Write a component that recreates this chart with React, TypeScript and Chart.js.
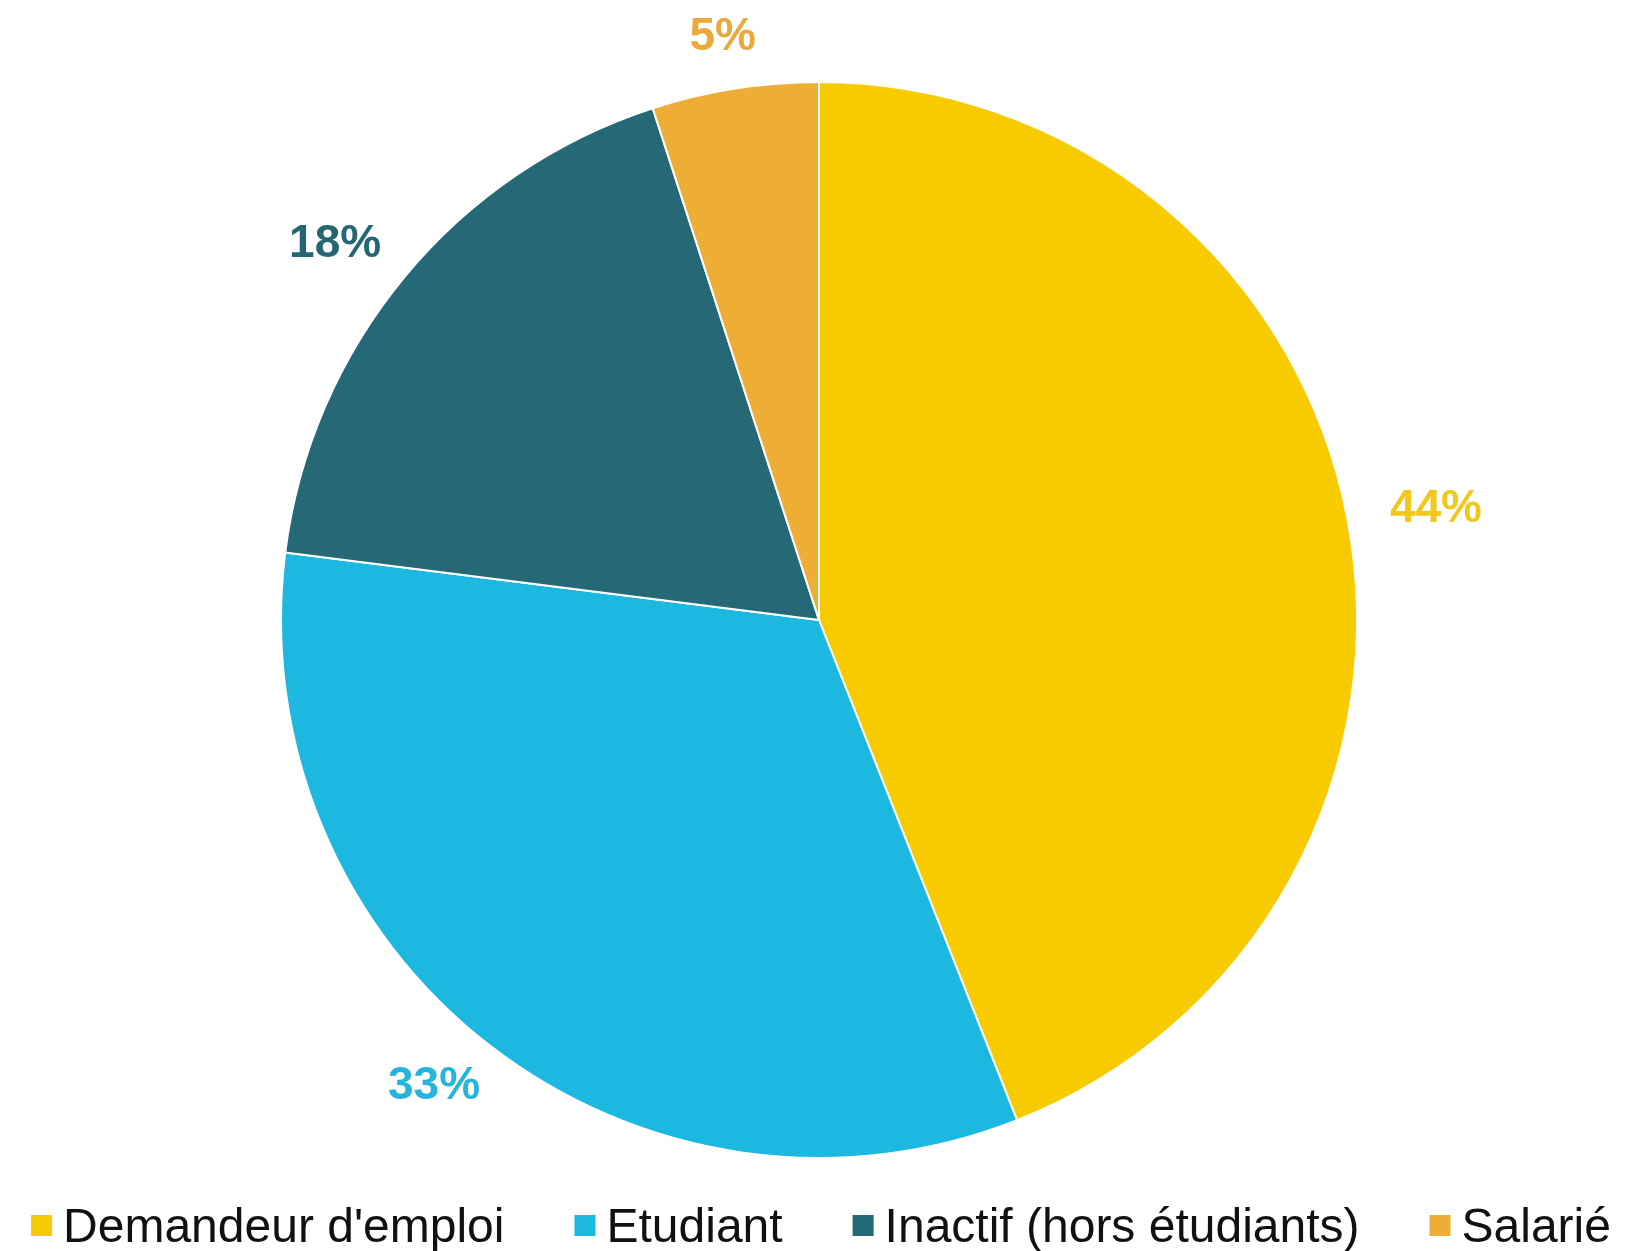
import React, { useEffect, useRef } from "react";
import { Chart, registerables } from "chart.js";

Chart.register(...registerables);

const categories = ["Demandeur d'emploi", "Etudiant", "Inactif (hors étudiants)", "Salarié"];
const values = [44, 33, 18, 5];
const sliceColors = ["#F8CB00", "#1DB8E0", "#256876", "#EEAE35"];
const labelColors = ["#F3C81C", "#24B5DC", "#256675", "#E9AA3A"];
const valueLabels = ["44%", "33%", "18%", "5%"];

const W = 1626;
const H = 1251;

const outsideLabels = {
  id: "outsideLabels",
  afterDatasetsDraw(chart: any) {
    const ctx = chart.ctx;
    const meta = chart.getDatasetMeta(0);
    ctx.save();
    ctx.font = "bold 46px 'Liberation Sans', Arial, sans-serif";
    ctx.textAlign = "center";
    ctx.textBaseline = "middle";
    meta.data.forEach((arc: any, i: number) => {
      const { x, y, startAngle, endAngle, outerRadius } = arc.getProps(
        ["x", "y", "startAngle", "endAngle", "outerRadius"],
        true
      );
      const mid = (startAngle + endAngle) / 2;
      const dx = Math.cos(mid);
      const dy = Math.sin(mid);
      const text = valueLabels[i];
      const w = ctx.measureText(text).width;
      const d = outerRadius + 44;
      const cx = x + dx * d + dx * (w / 2);
      const cy = y + dy * d + dy * 8;
      ctx.fillStyle = labelColors[i];
      ctx.fillText(text, cx, cy);
    });
    ctx.restore();
  },
};

const bottomLegend = {
  id: "bottomLegend",
  afterDraw(chart: any) {
    const ctx = chart.ctx;
    ctx.save();
    ctx.font = "48px 'Liberation Sans', Arial, sans-serif";
    ctx.textBaseline = "alphabetic";
    ctx.textAlign = "left";
    const box = 21;
    const boxGap = 11;
    const itemGap = 70;
    const widths = categories.map((c) => ctx.measureText(c).width);
    const total =
      widths.reduce((a, b) => a + b, 0) + categories.length * (box + boxGap) + (categories.length - 1) * itemGap;
    const centerX = (chart.chartArea.left + chart.chartArea.right) / 2 + 2;
    let x = centerX - total / 2;
    const baseline = chart.height - 9;
    categories.forEach((c, i) => {
      ctx.fillStyle = sliceColors[i];
      ctx.fillRect(x, baseline - 27, box, box);
      x += box + boxGap;
      ctx.fillStyle = "#111111";
      ctx.fillText(c, x, baseline);
      x += widths[i] + itemGap;
    });
    ctx.restore();
  },
};

export default function App() {
  const canvasRef = useRef<HTMLCanvasElement | null>(null);

  useEffect(() => {
    if (!canvasRef.current) return;
    const chart = new Chart(canvasRef.current, {
      type: "pie",
      data: {
        labels: categories,
        datasets: [
          {
            data: values,
            backgroundColor: sliceColors,
            borderColor: "#ffffff",
            borderWidth: 2,
          },
        ],
      },
      options: {
        responsive: false,
        animation: false,
        layout: {
          padding: { top: 81, bottom: 92, left: 280, right: 268 },
        },
        plugins: {
          legend: { display: false },
          tooltip: { enabled: false },
        },
      },
      plugins: [outsideLabels, bottomLegend],
    });
    return () => chart.destroy();
  }, []);

  return (
    <div style={{ position: "fixed", left: 0, top: 0, width: W, height: H, background: "#ffffff" }}>
      <canvas ref={canvasRef} width={W} height={H} style={{ width: W, height: H, display: "block" }} />
    </div>
  );
}
